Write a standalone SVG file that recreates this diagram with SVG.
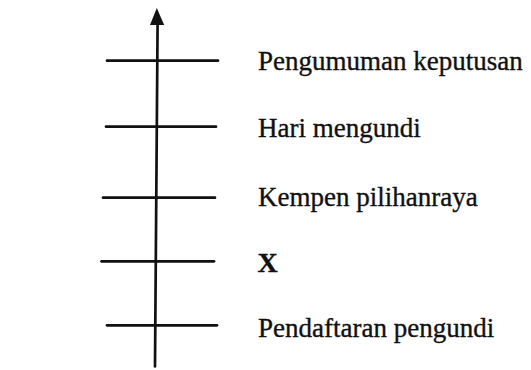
<svg xmlns="http://www.w3.org/2000/svg" width="531" height="370" viewBox="0 0 531 370">
<style>
.ln{stroke:#111;stroke-width:2.7;stroke-linecap:round;fill:none}
.t{font-family:"Liberation Serif","Times New Roman",serif;font-size:27px;fill:#111;stroke:#111;stroke-width:0.35}
.b{font-weight:bold;font-size:28px}
</style>
<rect width="531" height="370" fill="#fff"/>
<g id="connectors">
<line class="ln" x1="157.6" y1="22" x2="155" y2="366.5"/>
<polygon points="156.8,8 150,25 164.2,25" fill="#111"/>
</g>
<g id="n1"><line class="ln" x1="107" y1="60.7" x2="218" y2="60.7"/><text class="t" x="258" y="69.5">Pengumuman keputusan</text></g>
<g id="n2"><line class="ln" x1="106" y1="126.7" x2="216" y2="126.7"/><text class="t" x="258" y="136.5">Hari mengundi</text></g>
<g id="n3"><line class="ln" x1="103" y1="197.7" x2="215" y2="197.7"/><text class="t" x="258" y="205.5">Kempen pilihanraya</text></g>
<g id="n4"><line class="ln" x1="101.5" y1="261.3" x2="214" y2="261.3"/><text class="t b" x="257.5" y="271.5">X</text></g>
<g id="n5"><line class="ln" x1="107" y1="325.3" x2="217" y2="325.3"/><text class="t" x="258" y="337">Pendaftaran pengundi</text></g>
</svg>
